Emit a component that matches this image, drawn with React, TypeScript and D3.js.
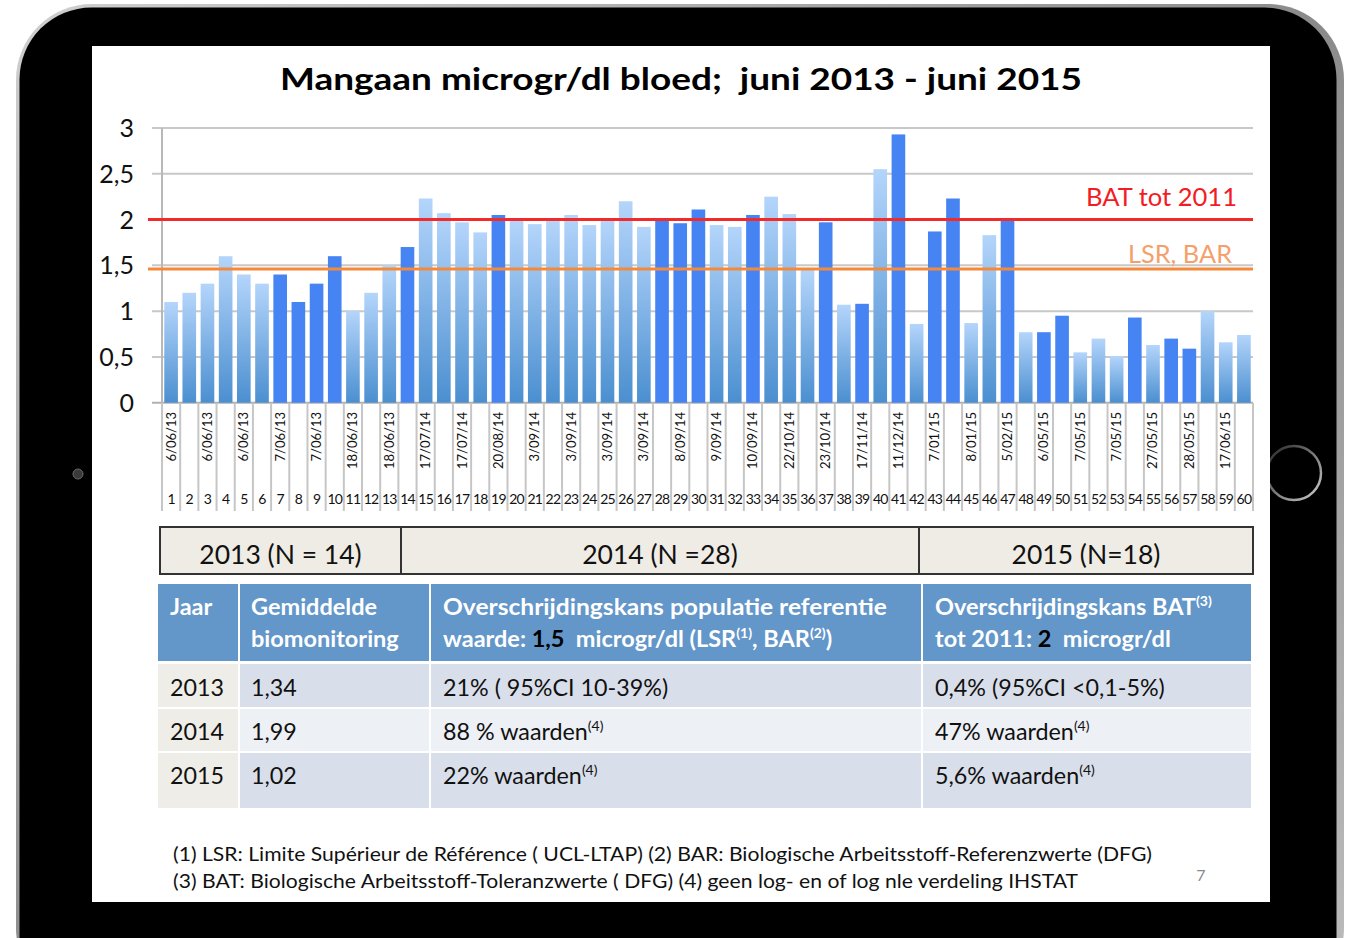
import React from "react";
import * as d3 from "d3";

const sampleNumbers = d3.range(1, 61);
const manganValues = [
  1.10, 1.20, 1.30, 1.60, 1.40, 1.30, 1.40, 1.10, 1.30, 1.60,
  1.00, 1.20, 1.50, 1.70, 2.23, 2.07, 1.97, 1.86, 2.05, 1.99,
  1.95, 1.99, 2.05, 1.94, 1.99, 2.20, 1.92, 2.00, 1.96, 2.11,
  1.94, 1.92, 2.05, 2.25, 2.06, 1.45, 1.97, 1.07, 1.08, 2.55,
  2.93, 0.86, 1.87, 2.23, 0.87, 1.83, 2.00, 0.77, 0.77, 0.95,
  0.55, 0.70, 0.51, 0.93, 0.63, 0.70, 0.59, 1.00, 0.66, 0.74,
];
const highlighted = [7, 8, 9, 10, 14, 19, 28, 29, 30, 33, 37, 39, 41, 43, 44, 47, 49, 50, 54, 56, 57];
const dateLabels = [
  "6/06/13", "6/06/13", "6/06/13", "7/06/13", "7/06/13", "18/06/13", "18/06/13",
  "17/07/14", "17/07/14", "20/08/14", "3/09/14", "3/09/14", "3/09/14", "3/09/14",
  "8/09/14", "9/09/14", "10/09/14", "22/10/14", "23/10/14", "17/11/14", "11/12/14",
  "7/01/15", "8/01/15", "5/02/15", "6/05/15", "7/05/15", "7/05/15", "27/05/15",
  "28/05/15", "17/06/15",
];
const yTicks = [0, 0.5, 1, 1.5, 2, 2.5, 3];
const batValue = 2.0;
const lsrValue = 1.46;

const yearGroups = ["2013 (N = 14)", "2014 (N =28)", "2015 (N=18)"];
const tableYears = ["2013", "2014", "2015"];
const tableMeans = ["1,34", "1,99", "1,02"];
const tableLsr = [["21% ( 95%CI 10-39%)", ""], ["88 % waarden", "(4)"], ["22% waarden", "(4)"]];
const tableBat = [["0,4% (95%CI <0,1-5%)", ""], ["47% waarden", "(4)"], ["5,6% waarden", "(4)"]];

const FONT = "Lato, 'Noto Sans', sans-serif";
const NB = "\u00A0";

export default function App() {
  const x = d3.scaleBand<number>().domain(sampleNumbers).range([162, 1253]).paddingInner(0.25).paddingOuter(0.125);
  const y = d3.scaleLinear().domain([0, 3]).range([402.7, 128]);
  const step = x.step();
  const bw = x.bandwidth();
  const boundaries = d3.range(0, 61).map((i) => 162 + i * step);

  const groupCols = [160, 401, 919, 1253];
  const cols = [158, 239, 430, 922, 1252];
  const rowsY = [664, 709, 753, 810];
  const rowFill = ["#d9dfea", "#edf0f5", "#d9dfea"];

  return (
    <svg width={1356} height={938} style={{ position: "absolute", left: 0, top: 0 }} fontFamily={FONT}>
      <defs>
        <linearGradient id="lightBar" x1="0" y1="0" x2="0" y2="1">
          <stop offset="0" stopColor="#b4d5fb" />
          <stop offset="1" stopColor="#4b8fd0" />
        </linearGradient>
        <linearGradient id="rim" x1="0" y1="0" x2="1" y2="1">
          <stop offset="0" stopColor="#d0d0d0" />
          <stop offset="0.5" stopColor="#8a8a8a" />
          <stop offset="1" stopColor="#bdbdbd" />
        </linearGradient>
        <linearGradient id="btn" x1="0" y1="0" x2="1" y2="1">
          <stop offset="0" stopColor="#222" />
          <stop offset="1" stopColor="#cfcfcf" />
        </linearGradient>
      </defs>
      <rect x={0} y={0} width={1356} height={938} fill="#ffffff" />
      {/* iPad frame */}
      <rect x={16} y={4} width={1328} height={1000} rx={76} fill="url(#rim)" />
      <rect x={19.5} y={7.5} width={1317} height={1000} rx={72} fill="#000" />
      <circle cx={1294} cy={473} r={27} fill="#000" stroke="url(#btn)" strokeWidth={2.5} />
      <circle cx={78} cy={474} r={5} fill="#3a3a3a" stroke="#6a6a6a" strokeWidth={1} />
      {/* slide */}
      <rect x={92} y={46} width={1178} height={856} fill="#ffffff" />

      <text x={681} y={90} textAnchor="middle" fontSize={30} fontWeight={700} fill="#000" textLength={802} lengthAdjust="spacingAndGlyphs">
        {`Mangaan microgr/dl bloed;${NB} juni 2013 - juni 2015`}
      </text>

      {/* gridlines */}
      {yTicks.map((t) => (
        <line key={"g" + t} x1={152} x2={1253} y1={y(t)} y2={y(t)} stroke={t === 0 ? "#b0b0b0" : "#c8c8c8"} strokeWidth={2} />
      ))}
      {yTicks.map((t) => (
        <text key={"yl" + t} x={134} y={y(t)} dy="0.36em" textAnchor="end" fontSize={25} fill="#111">
          {String(t).replace(".", ",")}
        </text>
      ))}
      <line x1={162} x2={162} y1={128} y2={403} stroke="#b8b8b8" strokeWidth={2} />

      {/* bars */}
      {manganValues.map((v, i) => {
        const n = sampleNumbers[i];
        const dark = highlighted.includes(n);
        return (
          <rect key={"b" + n} x={x(n)} y={y(v)} width={bw} height={y(0) - y(v)} fill={dark ? "#4784f3" : "url(#lightBar)"} />
        );
      })}

      {/* reference lines */}
      <line x1={148} x2={1253} y1={y(batValue)} y2={y(batValue)} stroke="#f22a2a" strokeWidth={3} />
      <line x1={148} x2={1253} y1={y(lsrValue)} y2={y(lsrValue)} stroke="#f5893a" strokeWidth={3} />
      <text x={1237} y={206} textAnchor="end" fontSize={25} fill="#f31c24" textLength={151} lengthAdjust="spacingAndGlyphs">BAT tot 2011</text>
      <text x={1232} y={263} textAnchor="end" fontSize={25} fill="#f5a06a" textLength={104} lengthAdjust="spacingAndGlyphs">LSR, BAR</text>

      {/* category axis */}
      {boundaries.map((b, i) => (
        <line key={"s" + i} x1={b} x2={b} y1={403} y2={511} stroke="#c6c6c6" strokeWidth={2} />
      ))}
      {dateLabels.map((d, i) => {
        const n = sampleNumbers[i * 2];
        const cx = (x(n) as number) + bw / 2 + 4.5;
        return (
          <text key={"d" + i} transform={`translate(${cx},412) rotate(-90)`} textAnchor="end" fontSize={13} fill="#111">
            {d}
          </text>
        );
      })}
      {sampleNumbers.map((n) => (
        <text key={"n" + n} x={(x(n) as number) + bw / 2} y={504} textAnchor="middle" fontSize={14} fill="#111" letterSpacing={-0.8}>
          {n}
        </text>
      ))}

      {/* year groups */}
      <rect x={groupCols[0]} y={527} width={groupCols[3] - groupCols[0]} height={47} fill="#efece5" stroke="#333" strokeWidth={2} />
      {[groupCols[1], groupCols[2]].map((c) => (
        <line key={"gc" + c} x1={c} x2={c} y1={527} y2={574} stroke="#333" strokeWidth={2} />
      ))}
      {yearGroups.map((g, i) => (
        <text key={g} x={(groupCols[i] + groupCols[i + 1]) / 2} y={564} textAnchor="middle" fontSize={26.5} fill="#111">
          {g}
        </text>
      ))}

      {/* table header */}
      {[0, 1, 2, 3].map((c) => (
        <rect key={"h" + c} x={cols[c] + (c === 0 ? 0 : 1)} y={584} width={cols[c + 1] - cols[c] - (c === 0 ? 1 : 2)} height={77} fill="#6396c9" />
      ))}
      <g fontSize={23.5} fontWeight={700} fill="#ffffff">
        <text x={170} y={615}>Jaar</text>
        <text x={251} y={615}>Gemiddelde</text>
        <text x={251} y={647}>biomonitoring</text>
        <text x={443} y={615} textLength={444} lengthAdjust="spacingAndGlyphs">Overschrijdingskans populatie referentie</text>
        <text x={443} y={647}>
          {"waarde: "}<tspan fill="#000">1,5</tspan>{`${NB} microgr/dl (LSR`}<tspan fontSize={14} dy={-9}>(1)</tspan>
          <tspan dy={9}>, BAR</tspan><tspan fontSize={14} dy={-9}>(2)</tspan><tspan dy={9}>)</tspan>
        </text>
        <text x={935} y={615}>
          Overschrijdingskans BAT<tspan fontSize={14} dy={-9}>(3)</tspan>
        </text>
        <text x={935} y={647}>
          {"tot 2011: "}<tspan fill="#000">2</tspan>{`${NB} microgr/dl`}
        </text>
      </g>

      {/* table body */}
      {tableYears.map((yr, r) => (
        <g key={yr}>
          {[0, 1, 2, 3].map((c) => (
            <rect key={c} x={cols[c] + (c === 0 ? 0 : 1)} y={rowsY[r]} width={cols[c + 1] - cols[c] - (c === 0 ? 1 : 2)} height={rowsY[r + 1] - rowsY[r] - 2} fill={c === 0 ? "#efede7" : rowFill[r]} />
          ))}
          <g fontSize={23.3} fill="#111">
            <text x={170} y={696 + r * 44}>{yr}</text>
            <text x={251} y={696 + r * 44}>{tableMeans[r]}</text>
            <text x={443} y={696 + r * 44}>
              {tableLsr[r][0]}
              {tableLsr[r][1] && <tspan fontSize={14} dy={-9}>{tableLsr[r][1]}</tspan>}
            </text>
            <text x={935} y={696 + r * 44}>
              {tableBat[r][0]}
              {tableBat[r][1] && <tspan fontSize={14} dy={-9}>{tableBat[r][1]}</tspan>}
            </text>
          </g>
        </g>
      ))}

      {/* footnotes */}
      <text x={173} y={861} fontSize={20} fill="#111" textLength={979} lengthAdjust="spacingAndGlyphs">
        (1) LSR: Limite Supérieur de Référence ( UCL-LTAP) (2) BAR: Biologische Arbeitsstoff-Referenzwerte (DFG)
      </text>
      <text x={173} y={888} fontSize={20} fill="#111" textLength={905} lengthAdjust="spacingAndGlyphs">
        (3) BAT: Biologische Arbeitsstoff-Toleranzwerte ( DFG) (4) geen log- en of log nle verdeling IHSTAT
      </text>
      <text x={1201} y={881} textAnchor="middle" fontSize={16} fill="#8a8a8a">7</text>
    </svg>
  );
}
